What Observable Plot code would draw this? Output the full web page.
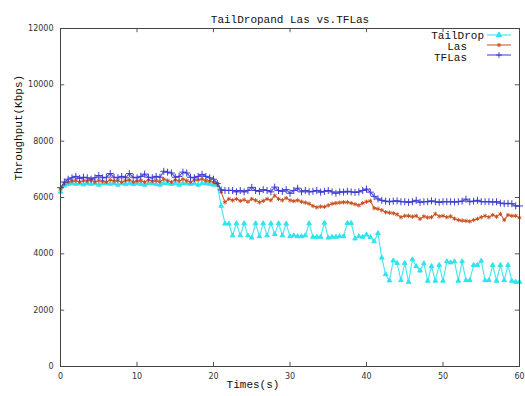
<!DOCTYPE html>
<html>
<head>
<meta charset="utf-8">
<script src="https://cdn.jsdelivr.net/npm/d3@7"></script>
<script src="https://cdn.jsdelivr.net/npm/@observablehq/plot@0.6"></script>
<style>
  html, body { margin: 0; padding: 0; background: #fff; }
  #chart svg { display: block; }
</style>
</head>
<body>
<div id="chart"></div>
<script>
// ---- data ----
const times = d3.range(0, 60.5, 0.5); // sample times (s)

const tailDrop = [
  6200, 6420, 6480, 6500, 6480, 6500, 6460, 6500, 6480, 6500,
  6450, 6500, 6500, 6480, 6500, 6450, 6500, 6480, 6500, 6470,
  6500, 6480, 6450, 6500, 6500, 6480, 6450, 6500, 6500, 6480,
  6500, 6450, 6500, 6500, 6480, 6500, 6450, 6500, 6500, 6480,
  6450, 6450, 5700, 5070, 5070, 4650, 5080, 4650, 5080, 4650,
  4570, 5080, 4620, 5080, 4650, 5080, 4700, 5080, 4650, 5070,
  4620, 4650, 4620, 4620, 4650, 5080, 4600, 4600, 4600, 5100,
  4570, 4600, 4600, 4620, 4620, 5090, 5090, 4540, 4620, 4600,
  4680, 4590, 4440, 4730, 3860, 3270, 3050, 3760, 3670, 3060,
  3670, 3000, 3800, 3560, 3400, 3660, 3040, 3560, 3040, 3600,
  3040, 3730, 3690, 3730, 3040, 3730, 3060, 3060, 3600, 3600,
  3750, 3060, 3060, 3600, 3040, 3600, 3060, 3600, 3040, 3000,
  3000
];

const las = [
  6300, 6500, 6550, 6580, 6600, 6550, 6600, 6580, 6620, 6550,
  6600, 6580, 6550, 6620, 6580, 6600, 6550, 6600, 6620, 6550,
  6580, 6600, 6550, 6620, 6580, 6600, 6560, 6650, 6600, 6550,
  6620, 6580, 6650, 6600, 6550, 6620, 6620, 6650, 6600, 6580,
  6550, 6500, 6200, 5830, 5950, 5900, 5950, 5880, 5920, 5850,
  5950, 5900, 5830, 5880, 5950, 5900, 6070, 5950, 5900, 5980,
  5900, 5870, 5900, 5850, 5820, 5780, 5700, 5650, 5680, 5670,
  5720, 5780, 5800, 5820, 5830, 5830, 5800, 5760, 5720, 5800,
  5850, 5880, 5620, 5600, 5550, 5480, 5460, 5440, 5400, 5300,
  5350, 5350, 5320, 5350, 5240, 5330, 5290, 5300, 5420, 5330,
  5350, 5300, 5330, 5250, 5200, 5180, 5170, 5150, 5200, 5240,
  5300, 5350, 5300, 5380, 5320, 5420, 5200, 5380, 5350, 5350,
  5280
];

const tfLas = [
  6350, 6550, 6650, 6700, 6750, 6680, 6720, 6700, 6650, 6700,
  6780, 6700, 6720, 6850, 6720, 6700, 6750, 6700, 6850, 6720,
  6700, 6750, 6830, 6720, 6700, 6750, 6720, 6930, 6900, 6870,
  6720, 6750, 6900, 6870, 6720, 6700, 6750, 6820, 6750, 6700,
  6650, 6500, 6270, 6250, 6250, 6250, 6200, 6250, 6200, 6250,
  6360, 6250, 6220, 6280, 6250, 6200, 6370, 6250, 6220, 6280,
  6150, 6250, 6330, 6200, 6250, 6200, 6220, 6250, 6190, 6220,
  6250, 6200, 6150, 6200, 6190, 6220, 6200, 6180, 6200, 6250,
  6300, 6190, 6040, 5950, 5900, 5870, 5850, 5870, 5880, 5850,
  5850, 5830, 5850, 5900, 5830, 5850, 5850, 5880, 5850, 5830,
  5850, 5850, 5850, 5840, 5850, 5870, 5940, 5850, 5870, 5900,
  5850, 5850, 5850, 5840, 5850, 5800, 5780, 5790, 5780, 5700,
  5700
];

const seriesNames = ["TailDrop", "Las", "TFLas"];
const seriesValues = [tailDrop, las, tfLas];
const seriesColors = ["#2fe3ef", "#c9501e", "#3c3cd2"];
const seriesSymbols = ["triangle", "asterisk", "plus"];
const seriesMarkerR = [1.7, 2.0, 2.4];

const xTicks = [0, 10, 20, 30, 40, 50, 60];
const yTicks = [0, 2000, 4000, 6000, 8000, 10000, 12000];

const titleText = "TailDropand Las vs.TFLas";
const xLabel = "Times(s)";
const yLabel = "Throughput(Kbps)";

// ---- build rows ----
const rows = [];
seriesNames.forEach((name, s) => {
  seriesValues[s].forEach((v, i) => rows.push({series: name, t: times[i], v}));
});

const mono = "'Liberation Mono', 'DejaVu Sans Mono', monospace";
const xTickLen = 150;   // in y data units (~4px)
const yTickLen = 0.55;  // in x data units (~4px)

const marks = [];
// tick marks (inward, all four sides)
marks.push(Plot.ruleX(xTicks, {x: d => d, y1: 0, y2: xTickLen, stroke: "#555"}));
marks.push(Plot.ruleX(xTicks, {x: d => d, y1: 12000 - xTickLen, y2: 12000, stroke: "#555"}));
marks.push(Plot.ruleY(yTicks, {y: d => d, x1: 0, x2: yTickLen, stroke: "#555"}));
marks.push(Plot.ruleY(yTicks, {y: d => d, x1: 60 - yTickLen, x2: 60, stroke: "#555"}));

// series lines and markers
seriesNames.forEach((name, s) => {
  const data = rows.filter(r => r.series === name);
  marks.push(Plot.line(data, {x: "t", y: "v", stroke: seriesColors[s], strokeWidth: 1.2, strokeOpacity: 0.85}));
  marks.push(Plot.dot(data, {x: "t", y: "v", stroke: seriesColors[s], fill: seriesColors[s], symbol: seriesSymbols[s], r: seriesMarkerR[s], strokeWidth: 1}));
});

marks.push(Plot.frame({stroke: "#444", strokeWidth: 1}));

// tick labels
marks.push(Plot.text(xTicks, {x: d => d, frameAnchor: "bottom", dy: 12, text: d => String(d), fontSize: 8, fill: "#333", fontFamily: "'DejaVu Sans', sans-serif"}));
marks.push(Plot.text(yTicks, {y: d => d, frameAnchor: "left", dx: -7, textAnchor: "end", text: d => String(d), fontSize: 8, fill: "#333", fontFamily: "'DejaVu Sans', sans-serif"}));

// title and axis labels
marks.push(Plot.text([titleText], {frameAnchor: "top", dy: -13, text: d => d, fontSize: 11, fill: "#111", fontFamily: mono}));
marks.push(Plot.text([xLabel], {frameAnchor: "bottom", dx: -37, dy: 21, text: d => d, fontSize: 11, fill: "#111", fontFamily: mono}));
marks.push(Plot.text([yLabel], {frameAnchor: "left", dx: -42, dy: -17, rotate: -90, text: d => d, fontSize: 11, fill: "#111", fontFamily: mono}));

const plot = Plot.plot({
  width: 525,
  height: 396,
  marginLeft: 60,
  marginRight: 6,
  marginTop: 28,
  marginBottom: 30,
  x: {domain: [0, 60], axis: null},
  y: {domain: [0, 12000], axis: null},
  style: {background: "#fff", overflow: "visible"},
  marks
});

document.getElementById("chart").appendChild(plot);

// ---- legend (inside top-right of frame) ----
const svg = d3.select(plot);
const frameRight = 525 - 6, frameTop = 28;
const g = svg.append("g").attr("font-family", mono).attr("font-size", 11);
const legendRowY = [7, 17, 27];          // line sample offsets from frame top
const legendTextRight = [-35, -52, -52]; // text right edges relative to frame right
const legendTextDy = [11, 22, 33];
seriesNames.forEach((name, s) => {
  const y = frameTop + legendRowY[s];
  g.append("line").attr("x1", frameRight - 32).attr("x2", frameRight - 8)
    .attr("y1", y).attr("y2", y).attr("stroke", seriesColors[s]).attr("stroke-width", 1.2).attr("stroke-opacity", 0.85);
  const sym = d3.symbol().type(
    seriesSymbols[s] === "triangle" ? d3.symbolTriangle :
    seriesSymbols[s] === "asterisk" ? d3.symbolAsterisk : d3.symbolPlus
  ).size(12)();
  g.append("path").attr("d", sym).attr("transform", `translate(${frameRight - 20},${y})`)
    .attr("stroke", seriesColors[s]).attr("fill", seriesColors[s]).attr("stroke-width", 1);
  g.append("text").attr("x", frameRight + legendTextRight[s]).attr("y", frameTop + legendTextDy[s])
    .attr("text-anchor", "end").attr("fill", "#111").text(name);
});
</script>
</body>
</html>
